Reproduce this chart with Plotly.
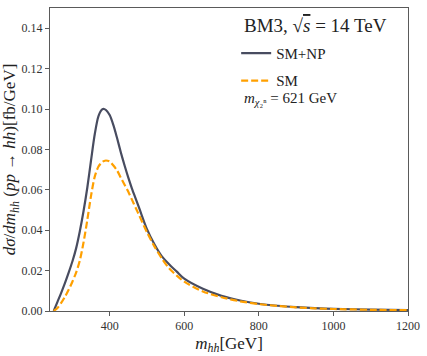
import plotly.graph_objects as go

m_hh = [250, 260, 270, 280, 290, 300, 310, 320, 330, 340, 350, 360, 370, 380, 385, 390,
        400, 410, 420, 430, 440, 450, 460, 470, 480, 500, 520, 540, 560, 580, 600,
        650, 700, 750, 800, 850, 900, 950, 1000, 1100, 1200]

sm_np = [0.0, 0.0045, 0.009, 0.0138, 0.019, 0.0245, 0.031, 0.0395, 0.0495, 0.061, 0.0745, 0.0875,
         0.0965, 0.0998, 0.100, 0.0995, 0.097, 0.092, 0.0855, 0.0785, 0.072, 0.066, 0.0605,
         0.0555, 0.0505, 0.0405, 0.033, 0.027, 0.023, 0.0195, 0.016, 0.011, 0.0075, 0.0052,
         0.0036, 0.0026, 0.0019, 0.0014, 0.0011, 0.0007, 0.0005]

sm = [0.0, 0.0015, 0.004, 0.007, 0.0105, 0.0145, 0.019, 0.025, 0.034, 0.045, 0.057, 0.0665,
      0.0715, 0.0738, 0.0743, 0.0745, 0.0740, 0.072, 0.0695, 0.066, 0.0625, 0.059, 0.055,
      0.051, 0.047, 0.039, 0.032, 0.026, 0.021, 0.0175, 0.0145, 0.0097, 0.0068, 0.0048,
      0.0034, 0.0025, 0.0018, 0.0013, 0.0010, 0.0006, 0.0004]

x_ticks = [400, 600, 800, 1000, 1200]
y_ticks = [0.00, 0.02, 0.04, 0.06, 0.08, 0.10, 0.12, 0.14]

FONT = "Liberation Serif, DejaVu Serif, serif"
NAVY = "#484c60"
ORANGE = "#ffa000"

fig = go.Figure()
fig.add_trace(go.Scatter(x=m_hh, y=sm_np, mode="lines", name="SM+NP", legendgroup="a",
                         line=dict(color=NAVY, width=2.2, shape="spline", smoothing=0.8)))
fig.add_trace(go.Scatter(x=m_hh, y=sm, mode="lines", name="SM", legendgroup="b",
                         line=dict(color=ORANGE, width=2.2, dash="7px,3px", shape="spline", smoothing=0.8)))

axis_common = dict(showgrid=False, zeroline=False, showline=True, mirror=True,
                   linecolor="#5a5a5a", linewidth=1, ticks="outside", ticklen=4,
                   tickcolor="#5a5a5a", tickfont=dict(family=FONT, size=12, color="#333"))

fig.update_xaxes(range=[240, 1200], tickvals=x_ticks,
                 title=dict(text="<i>m</i><sub><i>hh</i></sub>[GeV]", font=dict(family=FONT, size=17, color="#222"),
                            standoff=4),
                 **axis_common)
fig.update_yaxes(range=[0, 0.15], tickvals=y_ticks, tickformat=".2f",
                 title=dict(text="<i>dσ</i>/<i>dm</i><sub><i>hh</i></sub> (<i>pp</i> → <i>hh</i>)[fb/GeV]",
                            font=dict(family=FONT, size=17, color="#222"), standoff=3),
                 **axis_common)

fig.add_annotation(xref="paper", yref="paper", x=0.535, y=0.985, xanchor="left", yanchor="top",
                   text="BM3, √<span style='text-decoration:overline'><i>s</i></span> = 14 TeV",
                   showarrow=False, font=dict(family=FONT, size=19, color="#222"))
fig.add_annotation(xref="paper", yref="paper", x=0.535, y=0.735, xanchor="left", yanchor="top",
                   text="<i>m</i><sub><i>χ</i>₂ⁿ</sub> = 621 GeV",
                   showarrow=False, font=dict(family=FONT, size=15, color="#222"))

fig.update_layout(
    width=427, height=356,
    margin=dict(l=50, r=18, t=7, b=42),
    paper_bgcolor="white", plot_bgcolor="white",
    legend=dict(x=0.52, y=0.905, xanchor="left", yanchor="top", bgcolor="rgba(0,0,0,0)",
                font=dict(family=FONT, size=15, color="#222"), tracegroupgap=5,
                traceorder="grouped", itemwidth=30),
)

fig.write_html("out.html", config={"displayModeBar": False},
               post_script="document.body.style.margin='0';document.body.style.padding='0';")
